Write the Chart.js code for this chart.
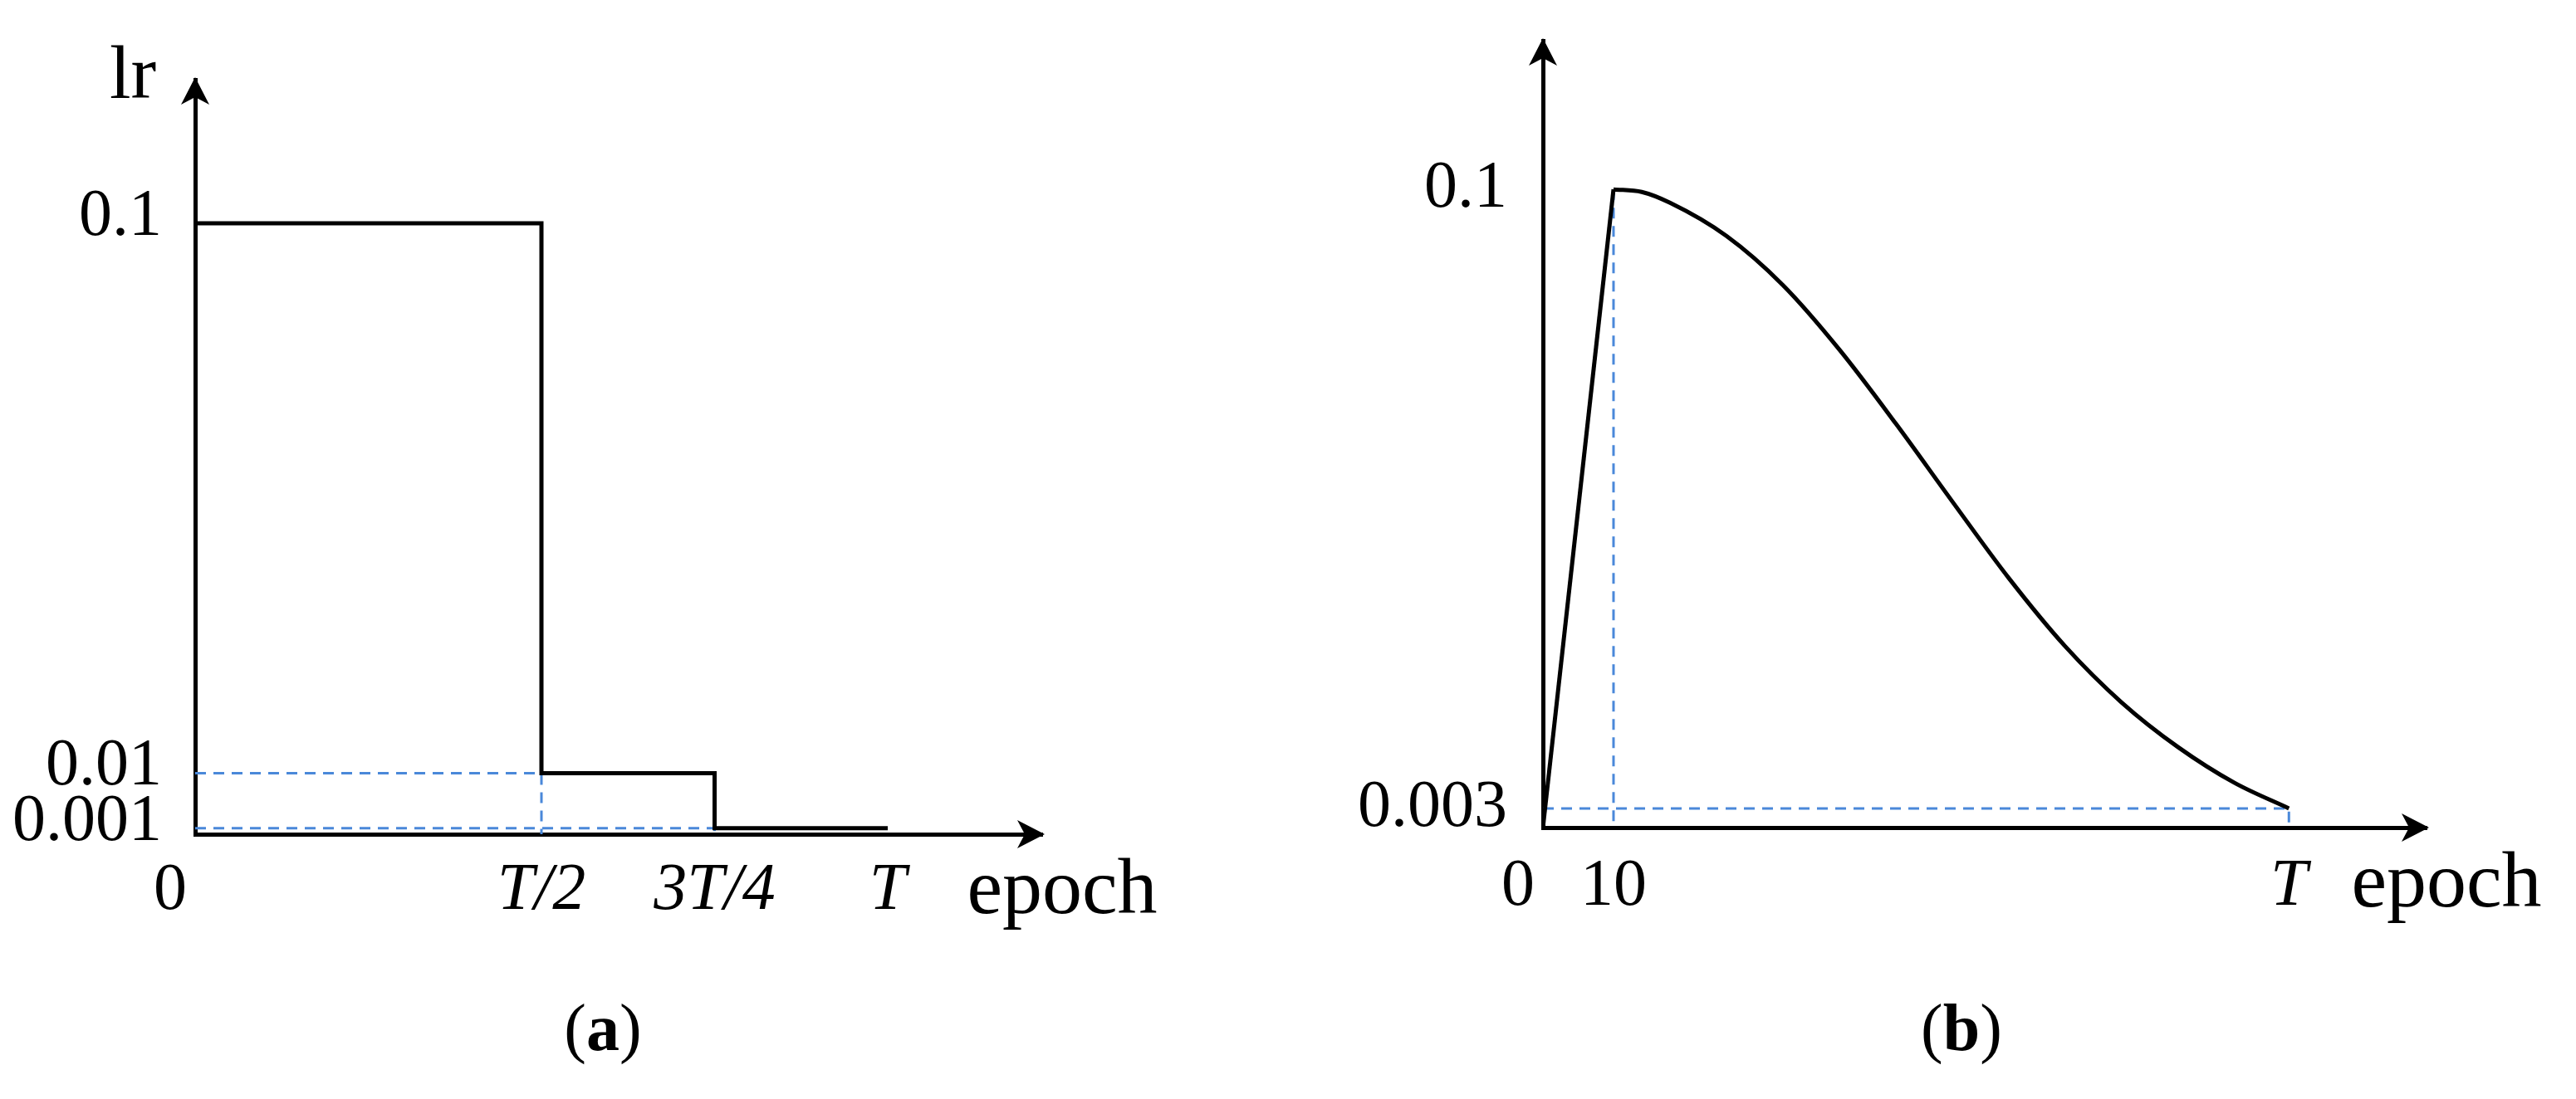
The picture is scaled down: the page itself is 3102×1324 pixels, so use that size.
<!DOCTYPE html>
<html>
<head>
<meta charset="utf-8">
<title>Learning rate schedules</title>
<script src="https://cdn.jsdelivr.net/npm/chart.js@4/dist/chart.umd.min.js"></script>
<style>
  html, body { margin: 0; padding: 0; background: #fff; }
  body { width: 3102px; height: 1324px; position: relative; overflow: hidden; }
  canvas { position: absolute; top: 0; }
  #step-chart { left: 0; }
  #cosine-chart { left: 1550px; }
  .caption {
    position: absolute;
    top: 1198px;
    font-family: 'Liberation Serif', 'Times New Roman', serif;
    font-size: 80px;
    line-height: 1;
    color: #000;
    transform: translateX(-50%);
  }
</style>
</head>
<body>
<canvas id="step-chart" width="1550" height="1324"></canvas>
<canvas id="cosine-chart" width="1552" height="1324"></canvas>
<div class="caption" style="left:726px">(<b>a</b>)</div>
<div class="caption" style="left:2362px">(<b>b</b>)</div>

<script>
const FONT = "'Liberation Serif', 'Times New Roman', serif";
const GUIDE_BLUE = '#4a88d9';

// (a) step decay, epoch given in units of T
const stepEpoch = [0, 0.5, 0.75, 1];
const stepLr = [0.1, 0.01, 0.001, 0.001];
const stepEpochTicks = [0, 0.5, 0.75, 1];
const stepEpochLabels = ['0   ', 'T/2', '3T/4', 'T'];   // spaces push the 0 left of the axis
const stepLrTicks = [0.001, 0.01, 0.1];
const stepLrLabels = ['0.001', '0.01', '0.1'];

// (b) linear warmup then cosine decay (epochs, T)
const T_EPOCH = 105.7;
const warmEpoch = [0, 10];
const warmLr = [0, 0.1];
const cosEpoch = [10, 14, 18, 26, 34, 42, 50, 58, 66, 74, 82, 90, 98, T_EPOCH];
const cosLr = [0.1, 0.0996, 0.0979, 0.0927, 0.085, 0.0749, 0.0633, 0.0511, 0.0391, 0.0284, 0.0196, 0.0126, 0.007, 0.003];
const cosEpochTicks = [0, 10, T_EPOCH];
const cosEpochLabels = ['0   ', '10', 'T'];
const cosLrTicks = [0.003, 0.1];
const cosLrLabels = ['0.003', '0.1'];


function pts(xs, ys) {
    return xs.map((x, i) => ({ x: x, y: ys[i] }));
}

// arrow head with its tip at (x, y), pointing along (dx, dy)
function arrowHead(ctx, x, y, dx, dy) {
    const len = 33, half = 17, notch = 24;
    const px = -dy, py = dx;
    ctx.beginPath();
    ctx.moveTo(x, y);
    ctx.lineTo(x - dx * len + px * half, y - dy * len + py * half);
    ctx.lineTo(x - dx * notch, y - dy * notch);
    ctx.lineTo(x - dx * len - px * half, y - dy * len - py * half);
    ctx.closePath();
    ctx.fill();
}

// Axis arrows and the axis names
const axisArrows = {
    id: 'axisArrows',
    afterDraw(chart, args, opts) {
        const ctx = chart.ctx;
        const a = chart.chartArea;
        ctx.save();
        ctx.fillStyle = '#000';
        arrowHead(ctx, a.left, a.top - 3, 0, -1);
        arrowHead(ctx, a.right + 3, a.bottom, 1, 0);

        ctx.textAlign = 'center';
        ctx.textBaseline = 'alphabetic';
        ctx.font = '96px ' + FONT;
        ctx.fillText(opts.xTitle, a.right + 24, a.bottom + 95);
        if (opts.yTitle) {
            ctx.font = '92px ' + FONT;
            ctx.fillText(opts.yTitle, a.left - 75, a.top + 22);
        }
        ctx.restore();
    }
};

function xScale(max, tickVals, tickLabels, height, padding) {
    return {
        type: 'linear',
        min: 0,
        max: max,
        afterBuildTicks: s => { s.ticks = tickVals.map(v => ({ value: v })); },
        afterFit: s => {
            s.height = height;
            s.paddingLeft = 0;
            s.paddingRight = 0;
        },
        grid: { display: false, drawTicks: false },
        border: { display: true, color: '#000', width: 5 },
        ticks: {
            autoSkip: false,
            maxRotation: 0,
            padding: padding,
            color: '#000',
            callback: (v, i) => tickLabels[i],
            font: ctx => ({
                family: FONT,
                size: 80,
                style: /T/.test(tickLabels[ctx.index] || '') ? 'italic' : 'normal'
            })
        }
    };
}

function yScale(max, tickVals, tickLabels, width, padding, shift) {
    return {
        type: 'linear',
        min: 0,
        max: max,
        afterBuildTicks: s => { s.ticks = tickVals.map(v => ({ value: v })); },
        afterFit: s => {
            s.width = width;
            s.paddingTop = 0;
            s.paddingBottom = 0;
        },
        grid: { display: false, drawTicks: false },
        border: { display: true, color: '#000', width: 5 },
        ticks: {
            autoSkip: false,
            padding: padding,
            labelOffset: shift,
            color: '#000',
            callback: (v, i) => tickLabels[i],
            font: { family: FONT, size: 80 }
        }
    };
}

function lineSet(data, extra) {
    return Object.assign({
        data: data,
        borderColor: '#000',
        borderWidth: 5,
        pointRadius: 0,
        fill: false,
        tension: 0,
        order: 0
    }, extra || {});
}

function guideSet(data) {
    return lineSet(data, {
        borderColor: GUIDE_BLUE,
        borderWidth: 3,
        borderDash: [13, 9],
        order: 1
    });
}

const baseOptions = {
    responsive: false,
    animation: false,
    devicePixelRatio: 1,
    events: []
};


// Step decay chart (a)

let stepChart = new Chart(document.getElementById('step-chart'), {
    type: 'line',
    data: {
        datasets: [
            lineSet(pts(stepEpoch, stepLr), { stepped: 'before' }),
            guideSet([
                { x: 0, y: stepLr[1] },
                { x: stepEpoch[1], y: stepLr[1] },
                { x: stepEpoch[1], y: 0 }
            ]),
            guideSet([
                { x: 0, y: stepLr[2] },
                { x: stepEpoch[2], y: stepLr[2] },
                { x: stepEpoch[2], y: 0 }
            ])
        ]
    },
    options: Object.assign({}, baseOptions, {
        layout: { padding: { top: 96, right: 295, left: 0, bottom: 0 } },
        scales: {
            x: xScale(1.223, stepEpochTicks, stepEpochLabels, 319, 21),
            y: yScale(0.1235, stepLrTicks, stepLrLabels, 235, 40, -7)
        },
        plugins: {
            legend: { display: false },
            tooltip: { enabled: false },
            axisArrows: { xTitle: 'epoch', yTitle: 'lr' }
        }
    }),
    plugins: [axisArrows]
});


// Warmup + cosine chart (b)

let cosineChart = new Chart(document.getElementById('cosine-chart'), {
    type: 'line',
    data: {
        datasets: [
            lineSet(pts(warmEpoch, warmLr)),
            lineSet(pts(cosEpoch, cosLr), { cubicInterpolationMode: 'monotone' }),
            guideSet([
                { x: warmEpoch[1], y: warmLr[1] },
                { x: warmEpoch[1], y: 0 }
            ]),
            guideSet([
                { x: 0, y: cosLr[cosLr.length - 1] },
                { x: T_EPOCH, y: cosLr[cosLr.length - 1] },
                { x: T_EPOCH, y: 0 }
            ])
        ]
    },
    options: Object.assign({}, baseOptions, {
        layout: { padding: { top: 49, right: 180, left: 0, bottom: 0 } },
        scales: {
            x: xScale(125.2, cosEpochTicks, cosEpochLabels, 327, 24),
            y: yScale(0.1233, cosLrTicks, cosLrLabels, 308, 43, 0)
        },
        plugins: {
            legend: { display: false },
            tooltip: { enabled: false },
            axisArrows: { xTitle: 'epoch' }
        }
    }),
    plugins: [axisArrows]
});
</script>
</body>
</html>
